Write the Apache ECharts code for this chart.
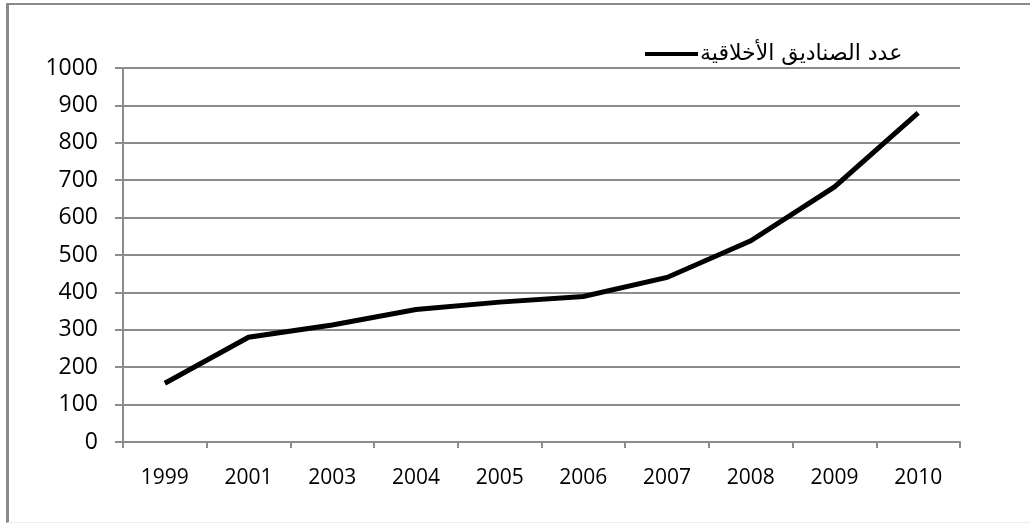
<!DOCTYPE html>
<html>
<head>
<meta charset="utf-8">
<script src="https://cdn.jsdelivr.net/npm/echarts@6/dist/echarts.min.js"></script>
<style>
  html, body { margin: 0; padding: 0; background: #fff; }
  #frame {
    position: absolute; left: 6px; top: 3px; width: 1024px; height: 520px;
    border-left: 3px solid #8a8a8a; border-top: 2px solid #8a8a8a;
    border-bottom: 1px solid #ececec; box-sizing: border-box;
  }
  #chart { position: absolute; left: 0; top: 0; width: 1030px; height: 526px; }
</style>
</head>
<body>
<div id="frame"></div>
<div id="chart"></div>
<script>
  // سنوات وعدد الصناديق
  const annees = ['1999', '2001', '2003', '2004', '2005', '2006', '2007', '2008', '2009', '2010'];
  const nbFonds = [157, 280, 313, 354, 374, 389, 440, 538, 682, 880];
  const nomSerie = 'عدد الصناديق الأخلاقية';

  const chart = echarts.init(document.getElementById('chart'));
  const gris = '#8c8c8c';
  const police = '"Open Sans", "DejaVu Sans", sans-serif';

  chart.setOption({
    animation: false,
    grid: { left: 123, right: 70, top: 68, bottom: 84 },
    legend: {
      data: [nomSerie],
      left: 645, top: 43, padding: 0,
      icon: 'rect', itemWidth: 53, itemHeight: 4, itemGap: 0,
      textStyle: { fontFamily: '"DejaVu Sans", sans-serif', fontSize: 22, color: '#000', padding: [0, 0, 0, -3] }
    },
    xAxis: {
      type: 'category',
      data: annees,
      boundaryGap: true,
      axisLine: { lineStyle: { color: gris, width: 2 } },
      axisTick: { show: true, length: 6, interval: 0, lineStyle: { color: gris, width: 2 } },
      axisLabel: { interval: 0, margin: 26, fontFamily: police, fontSize: 21, color: '#000' },
      splitLine: { show: false }
    },
    yAxis: {
      type: 'value',
      min: 0, max: 1000, interval: 100,
      axisLine: { show: true, lineStyle: { color: gris, width: 2 } },
      axisTick: { show: true, length: 8, lineStyle: { color: gris, width: 2 } },
      axisLabel: { margin: 25, fontFamily: police, fontSize: 23, color: '#000', formatter: v => String(v) },
      splitLine: { show: true, lineStyle: { color: gris, width: 2 } }
    },
    series: [{
      name: nomSerie,
      type: 'line',
      data: nbFonds,
      showSymbol: false,
      symbol: 'none',
      lineStyle: { color: '#000', width: 5, join: 'miter' },
      itemStyle: { color: '#000' }
    }]
  });
</script>
</body>
</html>
